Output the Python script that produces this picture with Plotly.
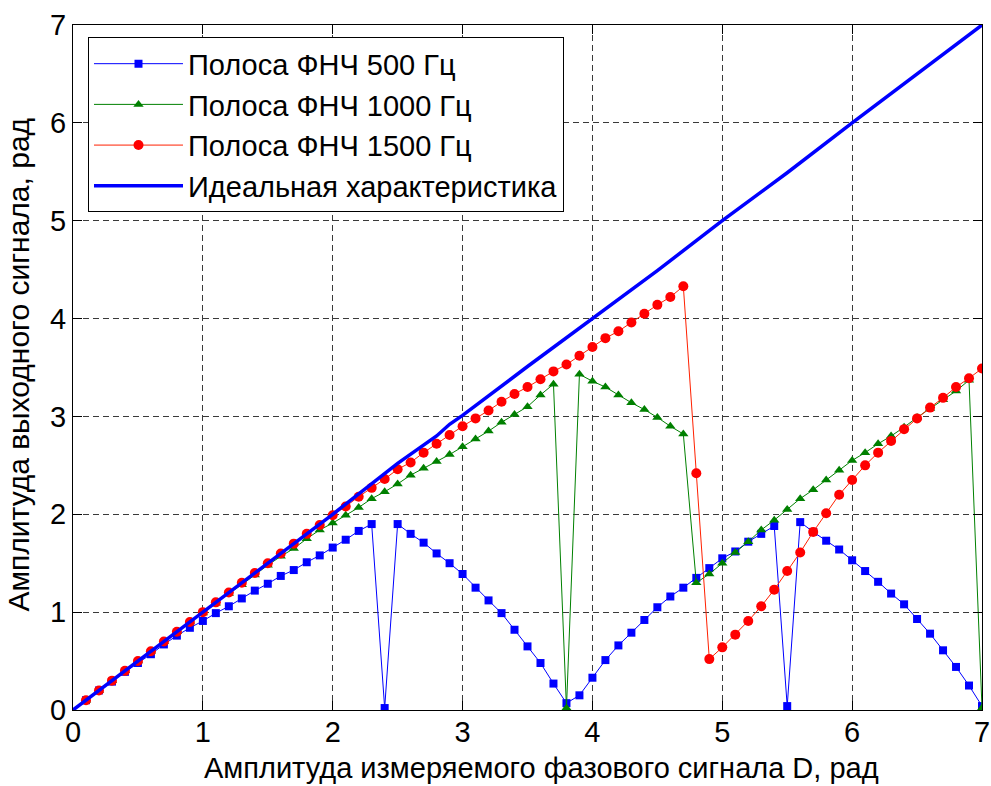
import plotly.graph_objects as go

# Measured phase amplitude D, rad (sample grid of the filtered runs)
x_meas = [0.1, 0.2, 0.3, 0.4, 0.5, 0.6, 0.7, 0.8, 0.9, 1.0,
          1.1, 1.2, 1.3, 1.4, 1.5, 1.6, 1.7, 1.8, 1.9, 2.0,
          2.1, 2.2, 2.3, 2.4, 2.5, 2.6, 2.7, 2.8, 2.9, 3.0,
          3.1, 3.2, 3.3, 3.4, 3.5, 3.6, 3.7, 3.8, 3.9, 4.0,
          4.1, 4.2, 4.3, 4.4, 4.5, 4.6, 4.7, 4.8, 4.9, 5.0,
          5.1, 5.2, 5.3, 5.4, 5.5, 5.6, 5.7, 5.8, 5.9, 6.0,
          6.1, 6.2, 6.3, 6.4, 6.5, 6.6, 6.7, 6.8, 6.9, 7.0]

# Output amplitude, LPF bandwidth 500 Hz
y_500 = [0.10, 0.20, 0.29, 0.39, 0.48, 0.57, 0.67, 0.76, 0.84, 0.91,
         0.99, 1.06, 1.14, 1.22, 1.29, 1.37, 1.43, 1.51, 1.58, 1.66,
         1.74, 1.83, 1.90, 0.02, 1.90, 1.80, 1.71, 1.60, 1.50, 1.39,
         1.25, 1.12, 0.99, 0.82, 0.65, 0.48, 0.27, 0.07, 0.15, 0.33,
         0.51, 0.66, 0.79, 0.92, 1.05, 1.16, 1.25, 1.35, 1.45, 1.55,
         1.62, 1.72, 1.80, 1.88, 0.04, 1.92, 1.82, 1.73, 1.64, 1.53,
         1.42, 1.31, 1.19, 1.08, 0.93, 0.78, 0.61, 0.44, 0.25, 0.04]

# Output amplitude, LPF bandwidth 1000 Hz
y_1000 = [0.10, 0.20, 0.30, 0.40, 0.50, 0.60, 0.70, 0.80, 0.90, 0.99,
          1.09, 1.19, 1.28, 1.38, 1.48, 1.57, 1.65, 1.75, 1.84, 1.91,
          1.99, 2.07, 2.16, 2.23, 2.31, 2.40, 2.47, 2.54, 2.61, 2.69,
          2.77, 2.85, 2.94, 3.02, 3.10, 3.22, 3.33, 0.02, 3.43, 3.36,
          3.30, 3.22, 3.14, 3.07, 2.99, 2.90, 2.82, 1.30, 1.39, 1.50,
          1.61, 1.72, 1.84, 1.94, 2.05, 2.16, 2.25, 2.35, 2.45, 2.55,
          2.63, 2.72, 2.80, 2.89, 2.99, 3.08, 3.17, 3.26, 3.37, 0.02]

# Output amplitude, LPF bandwidth 1500 Hz
y_1500 = [0.10, 0.20, 0.30, 0.40, 0.50, 0.60, 0.70, 0.80, 0.90, 1.00,
          1.10, 1.20, 1.30, 1.40, 1.50, 1.60, 1.70, 1.80, 1.89, 1.99,
          2.08, 2.18, 2.27, 2.36, 2.46, 2.53, 2.63, 2.72, 2.81, 2.90,
          2.98, 3.06, 3.15, 3.23, 3.30, 3.38, 3.46, 3.53, 3.62, 3.71,
          3.80, 3.87, 3.96, 4.05, 4.14, 4.22, 4.33, 2.42, 0.52, 0.64,
          0.77, 0.91, 1.06, 1.23, 1.42, 1.61, 1.82, 2.01, 2.20, 2.35,
          2.50, 2.63, 2.75, 2.87, 2.98, 3.09, 3.19, 3.30, 3.39, 3.49]

# Ideal transfer characteristic
x_ideal = [0.0, 0.5, 1.0, 1.5, 2.0, 2.5, 2.7, 2.8, 2.9, 3.0,
           3.5, 4.0, 4.5, 5.0, 5.5, 6.0, 6.5, 7.0]
y_ideal = [0.0, 0.5, 1.0, 1.5, 2.0, 2.52, 2.71, 2.80, 2.92, 3.01,
           3.51, 4.0, 4.49, 5.0, 5.49, 6.0, 6.5, 7.0]

x_ticks = [0, 1, 2, 3, 4, 5, 6, 7]
y_ticks = [0, 1, 2, 3, 4, 5, 6, 7]

names = ["Полоса ФНЧ 500 Гц", "Полоса ФНЧ 1000 Гц", "Полоса ФНЧ 1500 Гц",
         "Идеальная характеристика"]

FONT = "Liberation Sans, Arial, sans-serif"

fig = go.Figure()
fig.add_trace(go.Scatter(
    x=x_meas, y=y_500, mode="lines+markers", name=names[0],
    line=dict(color="#0000FF", width=1),
    marker=dict(symbol="square", size=8, color="#0000FF")))
fig.add_trace(go.Scatter(
    x=x_meas, y=y_1000, mode="lines+markers", name=names[1],
    line=dict(color="#008000", width=1),
    marker=dict(symbol="triangle-up", size=9, color="#008000")))
fig.add_trace(go.Scatter(
    x=x_meas, y=y_1500, mode="lines+markers", name=names[2],
    line=dict(color="#FF2000", width=1),
    marker=dict(symbol="circle", size=10, color="#FF0000")))
fig.add_trace(go.Scatter(
    x=x_ideal, y=y_ideal, mode="lines", name=names[3],
    line=dict(color="#0000FF", width=3.5)))

axis_common = dict(
    showline=True, linecolor="black", linewidth=1, mirror="allticks",
    ticks="inside", ticklen=9, tickcolor="black", tickwidth=1,
    showgrid=True, gridcolor="#3a3a3a", gridwidth=1, griddash="6px,4px",
    zeroline=False, automargin=False,
    tickfont=dict(family=FONT, size=29, color="black"),
)

fig.update_xaxes(range=[0, 7], tickvals=x_ticks, ticklabelstandoff=-4, **axis_common)
fig.update_yaxes(range=[0, 7], tickvals=y_ticks, ticklabelstandoff=0, **axis_common)

fig.update_layout(
    width=991, height=786,
    margin=dict(l=73, r=9, t=25, b=76),
    paper_bgcolor="white", plot_bgcolor="white",
    font=dict(family=FONT, size=29, color="black"),
    showlegend=True,
    legend=dict(
        x=0.0165, y=0.982, xanchor="left", yanchor="top",
        bgcolor="white", bordercolor="black", borderwidth=1,
        font=dict(family=FONT, size=29, color="black"),
        tracegroupgap=0, itemwidth=89,
    ),
    annotations=[
        dict(text="Амплитуда измеряемого фазового сигнала D, рад",
             xref="paper", yref="paper", x=0.515, y=-0.0847,
             xanchor="center", yanchor="middle", showarrow=False,
             font=dict(family=FONT, size=29, color="black")),
        dict(text="Амплитуда выходного сигнала, рад",
             xref="paper", yref="paper", x=-0.061, y=0.5036,
             xanchor="center", yanchor="middle", showarrow=False, textangle=-90,
             font=dict(family=FONT, size=30, color="black")),
    ],
)

fig.write_html("out.html")
